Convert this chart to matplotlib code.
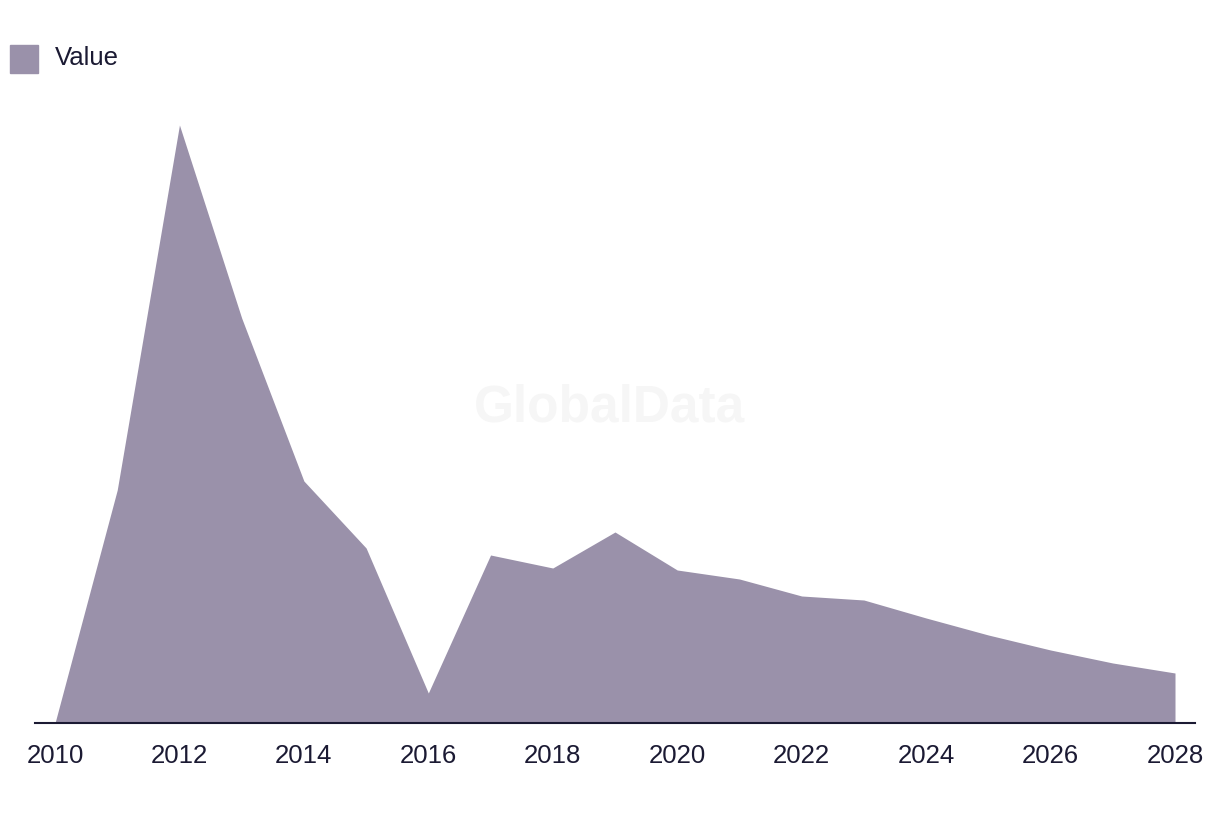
import matplotlib.pyplot as plt
from matplotlib.patches import Rectangle

years = list(range(2010, 2029))
values = [0, 233, 598, 405, 242, 175, 30, 168, 155, 191, 153, 144, 127, 123, 105, 88, 73, 60, 50]

fill_color = '#9a91aa'
ink = '#1b1a33'

plt.rcParams['font.family'] = ['Liberation Sans', 'DejaVu Sans']

fig = plt.figure(figsize=(12.2, 8.14), dpi=100)
ax = fig.add_axes([35 / 1220, 1 - 723 / 814, 1160 / 1220, 625 / 814])

ax.fill_between(years, values, 0, color=fill_color, linewidth=0)
ax.set_xlim(2010 - 20 / 62.22, 2028 + 20 / 62.22)
ax.set_ylim(0, 625)

for side in ['top', 'right', 'left']:
    ax.spines[side].set_visible(False)
ax.spines['bottom'].set_color(ink)
ax.spines['bottom'].set_linewidth(1.5)
ax.set_yticks([])
ax.set_xticks(years[::2])
ax.set_xticklabels([str(y) for y in years[::2]], fontsize=18.5, color=ink)
ax.tick_params(axis='x', length=0, pad=15)

# watermark
fig.text(610 / 1220, 1 - 408 / 814, 'GlobalData', fontsize=37, fontweight='bold',
         color='#f6f6f6', ha='center', va='center', zorder=0)

# legend
fig.patches.append(Rectangle((10 / 1220, 1 - 73 / 814), 28 / 1220, 28 / 814,
                             transform=fig.transFigure, color=fill_color))
fig.text(55 / 1220, 1 - 58 / 814, 'Value', fontsize=18.5, color=ink, va='center', ha='left')

fig.savefig('out.png', dpi=100)
